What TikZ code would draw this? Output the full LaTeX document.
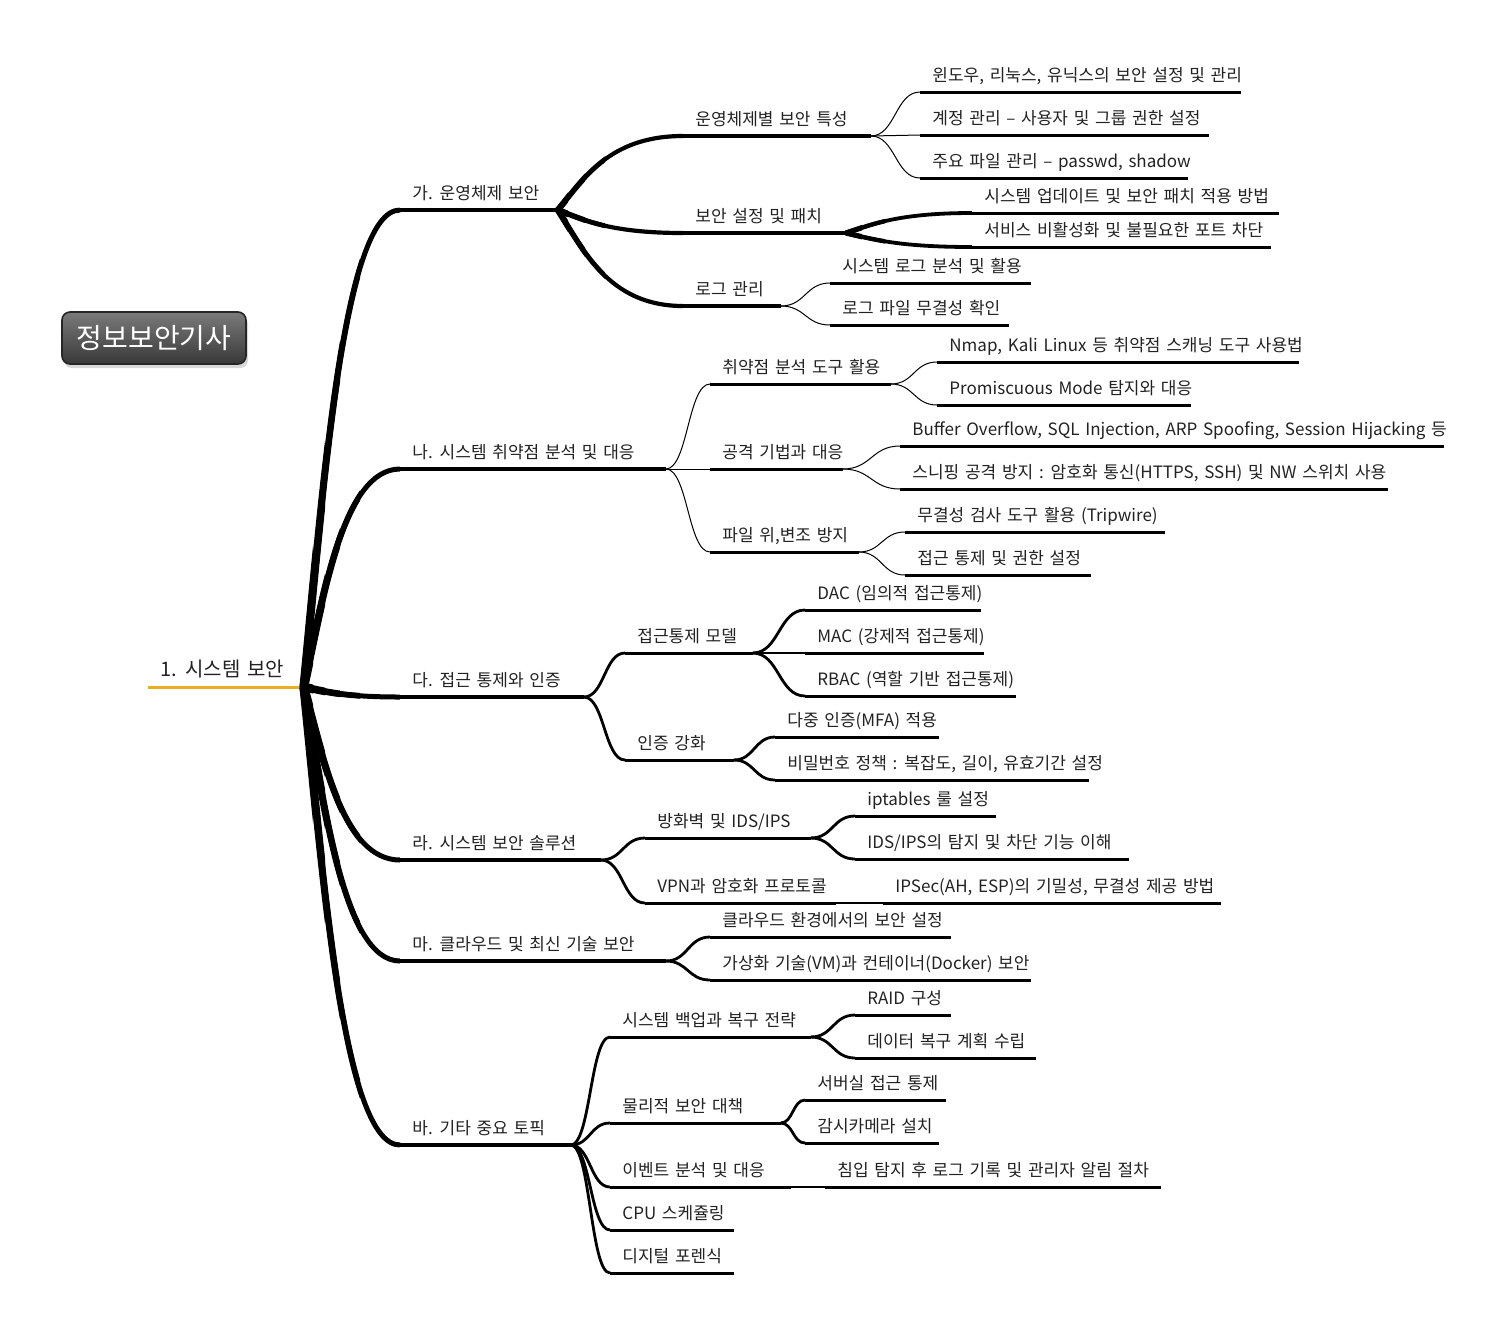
\documentclass[tikz,border=0pt]{standalone}
\usepackage{fontspec}
\setmainfont{Noto Sans CJK KR}[WordSpace=1.5]
\usetikzlibrary{calc,shadows}
\definecolor{gold}{HTML}{E8B020}
\definecolor{txt}{HTML}{222222}
\newdimen\pxu \pxu=0.5pt
\tikzset{
  tp/.style={anchor=south west, inner xsep=6pt, inner ysep=5pt, text depth=0pt,
    font=\fontsize{8.5}{10}\selectfont, text=txt},
  ulleaf/.style={line width=1.5pt},
  ullev1/.style={line width=2pt},
  ullev2/.style={line width=1.8pt},
  ulgold/.style={line width=1.5pt, draw=gold},
  lnhub/.style={line width=2.5pt},
  lnA/.style={line width=2.1pt},
  lnAtwo/.style={line width=1.9pt},
  lnmed/.style={line width=1.4pt},
  lnthin/.style={line width=0.5pt},
  rootbox/.style={rounded corners=4pt, draw=black!85, line width=0.8pt,
    top color=black!52, bottom color=black!78, text=white,
    minimum width=92pt, minimum height=26pt, inner sep=0pt,
    font=\fontsize{14}{16}\selectfont,
    drop shadow={shadow xshift=1pt, shadow yshift=-2pt, opacity=0.3}}
}
% topic node with underline: [underline style]{name}{x}{y}{length px}{text}
\newcommand\tp[6][ulleaf]{%
  \node[tp] (#2) at (#3,#4) {\makebox[\dimexpr #5\pxu-12pt\relax][l]{#6}};
  \draw[#1] (#2.south west) -- (#2.south east);}
% S-shaped connector
\newcommand\cs[3][]{%
  \draw[#1] let \p1=(#2.south east), \p2=(#3.south west) in
    (\p1) .. controls ({0.5*\x1+0.5*\x2},\y1) and ({0.5*\x1+0.5*\x2},\y2) .. (\p2);}
% steep-start connector
\newcommand\cj[3][]{%
  \draw[#1] let \p1=(#2.south east), \p2=(#3.south west) in
    (\p1) .. controls ({0.8*\x1+0.2*\x2},{0.6*\y1+0.4*\y2}) and ({0.6*\x1+0.4*\x2},\y2) .. (\p2);}
% tapered overlay: {x0}{x1}{width}{parent}{children}
\newcommand\taper[5]{%
  \begin{scope}\clip (#1,0) rectangle (#2,1330);
  \foreach \k in {#5}{\cj[line width=#3]{#4}{\k}}
  \end{scope}}

\begin{document}
\begin{tikzpicture}[x=0.5pt, y=-0.5pt]
\fill[white] (0,0) rectangle (1500,1330);
\useasboundingbox (0,0) rectangle (1500,1330);

% root
\node[rootbox] (root) at (154,338) {정보보안기사};

% main topic
\node[tp, font=\fontsize{10}{12}\selectfont] (main) at (148,687)
  {\makebox[\dimexpr 155\pxu-12pt\relax][l]{1. 시스템 보안}};
\draw[ulgold] (main.south west) -- (main.south east);

% level 1
\tp[ullev1]{A}{400}{210}{157}{가. 운영체제 보안}
\tp[ullev1]{B}{400}{469}{265}{나. 시스템 취약점 분석 및 대응}
\tp[ullev1]{C}{400}{697}{183}{다. 접근 통제와 인증}
\tp[ullev1]{D}{400}{860}{200}{라. 시스템 보안 솔루션}
\tp[ullev1]{E}{400}{961}{265}{마. 클라우드 및 최신 기술 보안}
\tp[ullev1]{F}{400}{1145}{170}{바. 기타 중요 토픽}

% A
\tp[ullev2]{A1}{683}{136}{187}{운영체제별 보안 특성}
\tp[ullev2]{A2}{683}{233}{162}{보안 설정 및 패치}
\tp[ullev2]{A3}{683}{306}{97}{로그 관리}
\tp{A11}{920}{92}{320}{윈도우, 리눅스, 유닉스의 보안 설정 및 관리}
\tp{A12}{920}{135}{288}{계정 관리 – 사용자 및 그룹 권한 설정}
\tp{A13}{920}{178}{267}{주요 파일 관리 – passwd, shadow}
\tp{A21}{972}{213}{306}{시스템 업데이트 및 보안 패치 적용 방법}
\tp{A22}{972}{247}{298}{서비스 비활성화 및 불필요한 포트 차단}
\tp{A31}{830}{283}{200}{시스템 로그 분석 및 활용}
\tp{A32}{830}{325}{178}{로그 파일 무결성 확인}

% B
\tp{B1}{710}{384}{180}{취약점 분석 도구 활용}
\tp{B2}{710}{469}{132}{공격 기법과 대응}
\tp{B3}{710}{552}{148}{파일 위,변조 방지}
\tp{B11}{937}{362}{361}{Nmap, Kali Linux 등 취약점 스캐닝 도구 사용법}
\tp{B12}{937}{405}{253}{Promiscuous Mode 탐지와 대응}
\tp{B21}{900}{446}{543}{Buffer Overflow, SQL Injection, ARP Spoofing, Session Hijacking 등}
\tp{B22}{900}{489}{487}{스니핑 공격 방지 : 암호화 통신(HTTPS, SSH) 및 NW 스위치 사용}
\tp{B31}{905}{532}{259}{무결성 검사 도구 활용 (Tripwire)}
\tp{B32}{905}{575}{185}{접근 통제 및 권한 설정}

% C
\tp{C1}{625}{653}{127}{접근통제 모델}
\tp{C2}{625}{760}{108}{인증 강화}
\tp{C11}{805}{610}{175}{DAC (임의적 접근통제)}
\tp{C12}{805}{653}{178}{MAC (강제적 접근통제)}
\tp{C13}{805}{696}{210}{RBAC (역할 기반 접근통제)}
\tp{C21}{775}{737}{163}{다중 인증(MFA) 적용}
\tp{C22}{775}{780}{313}{비밀번호 정책 : 복잡도, 길이, 유효기간 설정}

% D
\tp{D1}{645}{838}{165}{방화벽 및 IDS/IPS}
\tp{D2}{645}{903}{190}{VPN과 암호화 프로토콜}
\tp{D11}{855}{816}{140}{iptables 룰 설정}
\tp{D12}{855}{859}{273}{IDS/IPS의 탐지 및 차단 기능 이해}
\tp{D21}{883}{903}{337}{IPSec(AH, ESP)의 기밀성, 무결성 제공 방법}

% E
\tp{E1}{710}{937}{240}{클라우드 환경에서의 보안 설정}
\tp{E2}{710}{980}{320}{가상화 기술(VM)과 컨테이너(Docker) 보안}

% F
\tp{F1}{610}{1037}{200}{시스템 백업과 복구 전략}
\tp{F2}{610}{1123}{170}{물리적 보안 대책}
\tp{F3}{610}{1187}{180}{이벤트 분석 및 대응}
\tp{F4}{610}{1230}{123}{CPU 스케쥴링}
\tp{F5}{610}{1273}{123}{디지털 포렌식}
\tp{F11}{855}{1015}{95}{RAID 구성}
\tp{F12}{855}{1058}{180}{데이터 복구 계획 수립}
\tp{F21}{805}{1100}{140}{서버실 접근 통제}
\tp{F22}{805}{1143}{133}{감시카메라 설치}
\tp{F31}{825}{1187}{335}{침입 탐지 후 로그 기록 및 관리자 알림 절차}

% connectors
\foreach \k in {A,B,C,D,E,F}{\cj[lnhub]{main}{\k}}
\taper{290}{360}{2.9pt}{main}{A,B,C,D,E,F}
\taper{290}{340}{3.3pt}{main}{A,B,C,D,E,F}
\taper{290}{325}{3.8pt}{main}{A,B,C,D,E,F}
\taper{290}{313}{4.4pt}{main}{A,B,C,D,E,F}
\foreach \k in {A1,A2,A3}{\cj[lnA]{A}{\k}}
\taper{550}{605}{2.4pt}{A}{A1,A2,A3}
\taper{550}{585}{2.7pt}{A}{A1,A2,A3}
\taper{550}{568}{3.1pt}{A}{A1,A2,A3}
\foreach \k in {A11,A12,A13}{\cs[lnthin]{A1}{\k}}
\foreach \k in {A21,A22}{\cj[lnAtwo]{A2}{\k}}
\taper{840}{885}{2.2pt}{A2}{A21,A22}
\taper{840}{862}{2.6pt}{A2}{A21,A22}
\foreach \k in {A31,A32}{\cs[lnthin]{A3}{\k}}
\foreach \k in {B1,B2,B3}{\cs[lnthin]{B}{\k}}
\foreach \k in {B11,B12}{\cs[lnthin]{B1}{\k}}
\foreach \k in {B21,B22}{\cs[lnthin]{B2}{\k}}
\foreach \k in {B31,B32}{\cs[lnthin]{B3}{\k}}
\foreach \k in {C1,C2}{\cs[lnmed]{C}{\k}}
\foreach \k in {C11,C12,C13}{\cs[lnmed]{C1}{\k}}
\foreach \k in {C21,C22}{\cs[lnmed]{C2}{\k}}
\foreach \k in {D1,D2}{\cs[lnmed]{D}{\k}}
\foreach \k in {D11,D12}{\cs[lnmed]{D1}{\k}}
\cs[lnmed]{D2}{D21}
\foreach \k in {E1,E2}{\cs[lnmed]{E}{\k}}
\foreach \k in {F1,F2,F3,F4,F5}{\cs[lnmed]{F}{\k}}
\foreach \k in {F11,F12}{\cs[lnmed]{F1}{\k}}
\foreach \k in {F21,F22}{\cs[lnmed]{F2}{\k}}
\cs[lnmed]{F3}{F31}
\end{tikzpicture}
\end{document}
